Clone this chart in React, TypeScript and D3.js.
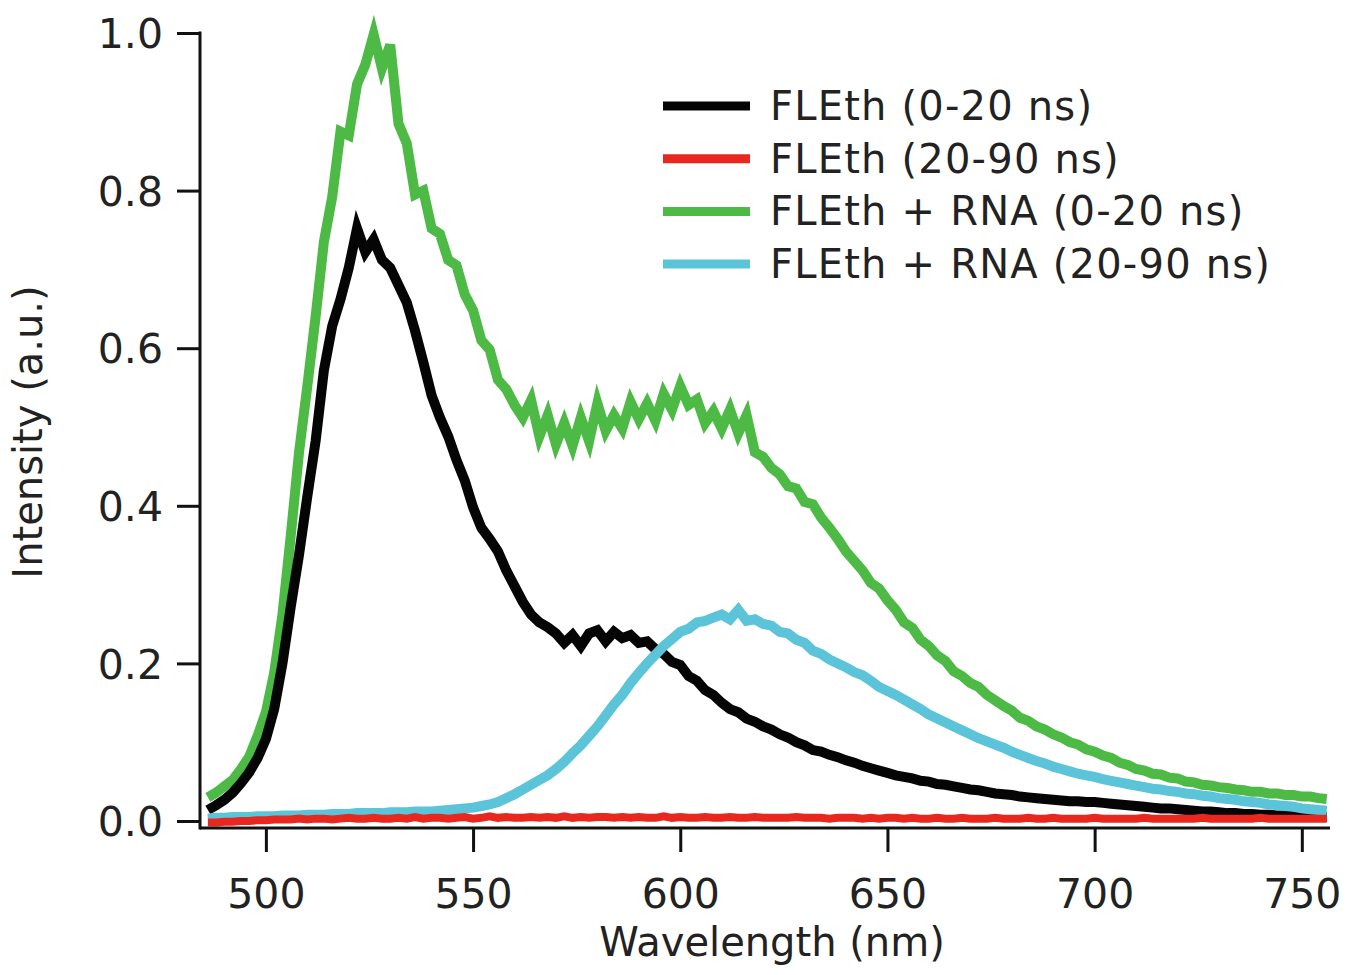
import { useEffect, useRef } from 'react';
import * as d3 from 'd3';

const width = 1348;
const height = 975;

// wavelength grid (nm), one sample every 2 nm
const wavelengths = d3.range(486, 757, 2);

// FLEth (0-20 ns)
const fleth0020 = [
    0.014, 0.020, 0.027, 0.036, 0.048, 0.062, 0.080, 0.104, 0.142, 0.200,
    0.272, 0.338, 0.412, 0.482, 0.572, 0.628, 0.662, 0.702, 0.752, 0.722,
    0.738, 0.712, 0.702, 0.680, 0.658, 0.622, 0.582, 0.540, 0.512, 0.488,
    0.458, 0.432, 0.398, 0.372, 0.358, 0.342, 0.318, 0.298, 0.278, 0.262,
    0.252, 0.246, 0.238, 0.226, 0.236, 0.222, 0.238, 0.242, 0.228, 0.240,
    0.232, 0.236, 0.226, 0.228, 0.218, 0.212, 0.202, 0.198, 0.184, 0.178,
    0.166, 0.160, 0.150, 0.142, 0.138, 0.130, 0.126, 0.120, 0.116, 0.110,
    0.106, 0.100, 0.096, 0.090, 0.088, 0.084, 0.081, 0.077, 0.074, 0.070,
    0.067, 0.064, 0.061, 0.058, 0.056, 0.054, 0.051, 0.050, 0.047, 0.046,
    0.044, 0.042, 0.040, 0.039, 0.037, 0.035, 0.034, 0.033, 0.031, 0.030,
    0.029, 0.028, 0.027, 0.026, 0.025, 0.025, 0.024, 0.024, 0.023, 0.022,
    0.021, 0.020, 0.019, 0.018, 0.017, 0.016, 0.016, 0.015, 0.014, 0.013,
    0.012, 0.012, 0.011, 0.010, 0.010, 0.009, 0.009, 0.008, 0.008, 0.007,
    0.007, 0.006, 0.006, 0.006, 0.005, 0.005
];

// FLEth (20-90 ns)
const fleth2090 = [
    -0.002, -0.002, -0.001, -0.001, 0.000, 0.000, 0.001, 0.001, 0.002, 0.002,
    0.002, 0.003, 0.002, 0.003, 0.003, 0.002, 0.003, 0.004, 0.003, 0.003,
    0.004, 0.003, 0.003, 0.004, 0.003, 0.005, 0.003, 0.004, 0.004, 0.003,
    0.004, 0.005, 0.003, 0.004, 0.006, 0.004, 0.005, 0.004, 0.004, 0.005,
    0.004, 0.005, 0.004, 0.006, 0.004, 0.005, 0.004, 0.005, 0.005, 0.004,
    0.005, 0.004, 0.005, 0.004, 0.004, 0.006, 0.004, 0.005, 0.004, 0.004,
    0.005, 0.004, 0.004, 0.005, 0.004, 0.004, 0.005, 0.004, 0.004, 0.004,
    0.004, 0.005, 0.004, 0.004, 0.004, 0.003, 0.004, 0.004, 0.004, 0.003,
    0.004, 0.003, 0.004, 0.004, 0.003, 0.004, 0.003, 0.003, 0.004, 0.003,
    0.003, 0.004, 0.003, 0.003, 0.003, 0.004, 0.003, 0.003, 0.003, 0.004,
    0.003, 0.003, 0.004, 0.003, 0.003, 0.003, 0.003, 0.004, 0.003, 0.003,
    0.003, 0.003, 0.003, 0.004, 0.003, 0.003, 0.003, 0.003, 0.003, 0.003,
    0.004, 0.003, 0.003, 0.003, 0.003, 0.003, 0.003, 0.004, 0.003, 0.003,
    0.003, 0.003, 0.003, 0.003, 0.003, 0.003
];

// FLEth + RNA (0-20 ns)
const flethRna0020 = [
    0.030, 0.036, 0.044, 0.052, 0.066, 0.082, 0.108, 0.138, 0.188, 0.262,
    0.362, 0.468, 0.552, 0.640, 0.735, 0.792, 0.875, 0.870, 0.935, 0.960,
    0.998, 0.955, 0.985, 0.885, 0.860, 0.795, 0.800, 0.752, 0.745, 0.712,
    0.705, 0.668, 0.648, 0.610, 0.598, 0.560, 0.548, 0.528, 0.512, 0.534,
    0.488, 0.515, 0.478, 0.505, 0.476, 0.512, 0.482, 0.530, 0.495, 0.515,
    0.498, 0.532, 0.510, 0.530, 0.508, 0.542, 0.522, 0.552, 0.528, 0.535,
    0.505, 0.520, 0.498, 0.522, 0.492, 0.515, 0.468, 0.462, 0.448, 0.440,
    0.425, 0.422, 0.405, 0.402, 0.385, 0.372, 0.358, 0.342, 0.330, 0.318,
    0.302, 0.295, 0.280, 0.268, 0.252, 0.245, 0.230, 0.222, 0.210, 0.203,
    0.190, 0.184, 0.175, 0.170, 0.160, 0.153, 0.146, 0.140, 0.131, 0.127,
    0.120, 0.116, 0.110, 0.106, 0.100, 0.097, 0.091, 0.088, 0.083, 0.080,
    0.074, 0.071, 0.066, 0.064, 0.060, 0.059, 0.055, 0.054, 0.050, 0.049,
    0.046, 0.045, 0.043, 0.042, 0.040, 0.039, 0.037, 0.037, 0.035, 0.035,
    0.033, 0.033, 0.031, 0.031, 0.029, 0.028
];

// FLEth + RNA (20-90 ns)
const flethRna2090 = [
    0.003, 0.004, 0.004, 0.005, 0.005, 0.005, 0.006, 0.006, 0.006, 0.007,
    0.007, 0.007, 0.008, 0.008, 0.008, 0.009, 0.009, 0.009, 0.010, 0.010,
    0.010, 0.010, 0.011, 0.011, 0.011, 0.012, 0.012, 0.012, 0.013, 0.014,
    0.015, 0.016, 0.017, 0.019, 0.021, 0.024, 0.029, 0.034, 0.040, 0.046,
    0.052, 0.058, 0.066, 0.075, 0.086, 0.096, 0.108, 0.120, 0.134, 0.148,
    0.160, 0.175, 0.188, 0.200, 0.211, 0.222, 0.231, 0.240, 0.244, 0.252,
    0.254, 0.258, 0.262, 0.256, 0.268, 0.254, 0.256, 0.250, 0.248, 0.240,
    0.238, 0.230, 0.226, 0.216, 0.212, 0.205, 0.200, 0.195, 0.189, 0.185,
    0.178, 0.170, 0.165, 0.160, 0.154, 0.148, 0.142, 0.135, 0.130, 0.125,
    0.120, 0.115, 0.110, 0.105, 0.101, 0.097, 0.093, 0.088, 0.084, 0.080,
    0.076, 0.073, 0.069, 0.066, 0.063, 0.060, 0.058, 0.056, 0.053, 0.051,
    0.049, 0.047, 0.045, 0.043, 0.041, 0.040, 0.038, 0.037, 0.035, 0.034,
    0.032, 0.031, 0.029, 0.028, 0.027, 0.025, 0.024, 0.023, 0.021, 0.020,
    0.019, 0.018, 0.016, 0.015, 0.014, 0.013
];

const seriesNames = ['FLEth (0-20 ns)', 'FLEth (20-90 ns)', 'FLEth + RNA (0-20 ns)', 'FLEth + RNA (20-90 ns)'];
const seriesColors = ['#050505', '#e8281e', '#4cba44', '#5cc4d8'];
const seriesValues = [fleth0020, fleth2090, flethRna0020, flethRna2090];
// draw order, back to front
const drawOrder = [2, 0, 3, 1];

const xTicks = [500, 550, 600, 650, 700, 750];
const yTicks = [0, 0.2, 0.4, 0.6, 0.8, 1.0];

const font = "'DejaVu Sans', Verdana, sans-serif";
const ink = '#222';

export default function App() {
    const ref = useRef<HTMLDivElement>(null);

    useEffect(() => {
        const root = d3.select(ref.current);
        root.selectAll('*').remove();

        const svg = root
            .append('svg')
            .attr('width', width)
            .attr('height', height)
            .style('position', 'absolute')
            .style('left', 0)
            .style('top', 0)
            .style('background', '#fff')
            .attr('font-family', font);

        // plot frame
        const left = 200;
        const right = 1330;
        const top = 33;
        const zeroY = 821;
        const bottomAxisY = 828;

        const x = d3.scaleLinear().domain([484.1, 756.8]).range([left, right]);
        const y = d3.scaleLinear().domain([0, 1]).range([zeroY, top]);

        // curves
        const line = d3
            .line<number>()
            .x((_d, i) => x(wavelengths[i]))
            .y((d) => y(d));

        const curves = svg.append('g');
        drawOrder.forEach((k) => {
            curves
                .append('path')
                .attr('fill', 'none')
                .attr('stroke', seriesColors[k])
                .attr('stroke-width', k === 1 ? 8 : 10)
                .attr('stroke-linejoin', 'miter')
                .attr('d', line(seriesValues[k]));
        });

        // y axis
        const yAxis = d3
            .axisLeft(y)
            .tickValues(yTicks)
            .tickFormat(d3.format('.1f'))
            .tickSize(23)
            .tickPadding(14);

        svg.append('g')
            .attr('transform', `translate(${left},0)`)
            .call(yAxis)
            .call((g) => g.select('.domain').remove())
            .call((g) => g.selectAll('.tick line').attr('stroke', '#111').attr('stroke-width', 3))
            .call((g) =>
                g
                    .selectAll('.tick text')
                    .attr('fill', ink)
                    .attr('font-family', font)
                    .attr('font-size', 41)
                    .attr('dy', '0.36em')
            );

        svg.append('line')
            .attr('x1', left)
            .attr('x2', left)
            .attr('y1', y(1) - 1.5)
            .attr('y2', bottomAxisY + 1.5)
            .attr('stroke', '#111')
            .attr('stroke-width', 3);

        // x axis
        const xAxis = d3.axisBottom(x).tickValues(xTicks).tickFormat(d3.format('d')).tickSize(24).tickPadding(26);

        svg.append('g')
            .attr('transform', `translate(0,${bottomAxisY})`)
            .call(xAxis)
            .call((g) => g.select('.domain').remove())
            .call((g) => g.selectAll('.tick line').attr('stroke', '#111').attr('stroke-width', 3))
            .call((g) =>
                g
                    .selectAll('.tick text')
                    .attr('fill', ink)
                    .attr('font-family', font)
                    .attr('font-size', 41)
                    .attr('dy', '0.72em')
            );

        svg.append('line')
            .attr('x1', left)
            .attr('x2', right)
            .attr('y1', bottomAxisY)
            .attr('y2', bottomAxisY)
            .attr('stroke', '#111')
            .attr('stroke-width', 3);

        // axis titles
        svg.append('text')
            .attr('x', 772)
            .attr('y', 956)
            .attr('text-anchor', 'middle')
            .attr('font-size', 40)
            .attr('fill', ink)
            .text('Wavelength (nm)');

        svg.append('text')
            .attr('transform', `translate(42,432) rotate(-90)`)
            .attr('text-anchor', 'middle')
            .attr('font-size', 40)
            .attr('fill', ink)
            .text('Intensity (a.u.)');

        // legend
        const legend = svg.append('g').attr('transform', 'translate(663,106)');
        seriesNames.forEach((name, i) => {
            const row = legend.append('g').attr('transform', `translate(0,${i * 52.7})`);
            row.append('line')
                .attr('x1', 0)
                .attr('x2', 87)
                .attr('y1', 0)
                .attr('y2', 0)
                .attr('stroke', seriesColors[i])
                .attr('stroke-width', 9);
            row.append('text')
                .attr('x', 107)
                .attr('y', 14)
                .attr('font-size', 40)
                .attr('letter-spacing', 1.2)
                .attr('fill', ink)
                .text(name);
        });
    }, []);

    return <div ref={ref} />;
}
